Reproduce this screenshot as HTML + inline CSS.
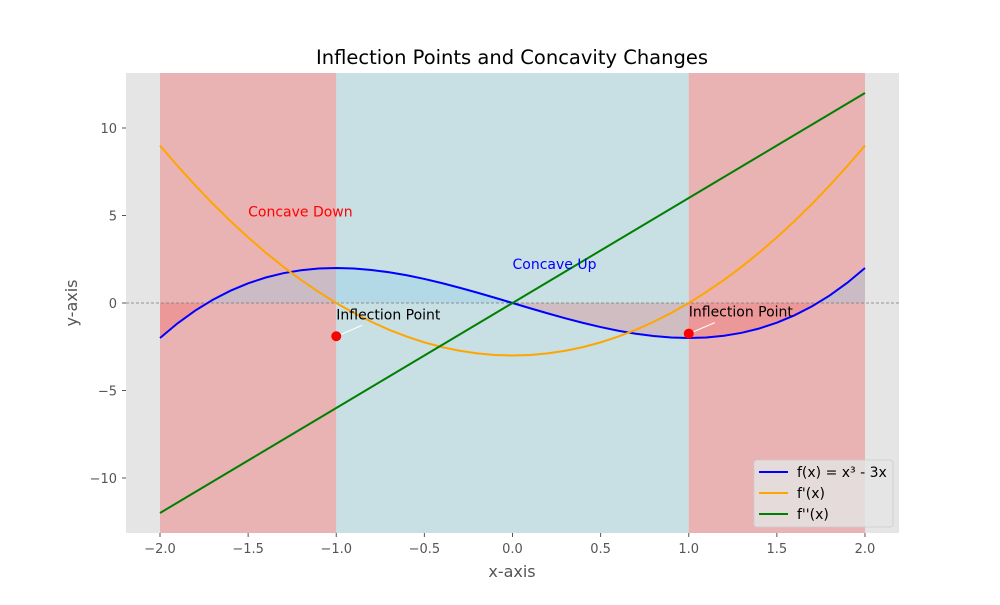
<!DOCTYPE html>
<html><head><meta charset="utf-8"><style>
body{margin:0;background:#fff;font-family:"Liberation Sans","DejaVu Sans",sans-serif}
svg text{font-family:"DejaVu Sans","Liberation Sans",sans-serif}
</style></head><body>
<svg id="chart" width="1000" height="600" xmlns="http://www.w3.org/2000/svg">
<defs>
<clipPath id="above"><rect x="126" y="73" width="773" height="230"/></clipPath>
<clipPath id="below"><rect x="126" y="303" width="773" height="230"/></clipPath>
<clipPath id="plot"><rect x="126" y="73" width="773" height="460"/></clipPath>
</defs>
<rect x="126" y="73" width="773" height="460" fill="#e5e5e5"/>
<g id="spans"></g>
<g id="fills"></g>
<line id="zero" x1="126" x2="899" stroke="#777" stroke-width="0.8" stroke-dasharray="3,2"/>
<g id="lines" clip-path="url(#plot)"></g>
<g id="ticks"></g>
<g id="annot"></g>
<text x="512" y="64" text-anchor="middle" font-size="19.5" fill="#000">Inflection Points and Concavity Changes</text>
<text x="512" y="577" text-anchor="middle" font-size="16" fill="#555">x-axis</text>
<text x="77" y="303" text-anchor="middle" font-size="16" fill="#555" transform="rotate(-90 77 303)">y-axis</text>
<g>
<rect x="754" y="460" width="139" height="67" rx="3" fill="#e5e5e5" fill-opacity="0.8" stroke="#ccc" stroke-width="0.8"/>
<line x1="759" x2="788" y1="472" y2="472" stroke="blue" stroke-width="2"/>
<text x="797" y="477" font-size="14" fill="#000">f(x) = x³ - 3x</text>
<line x1="759" x2="788" y1="493" y2="493" stroke="orange" stroke-width="2"/>
<text x="797" y="498" font-size="14" fill="#000">f'(x)</text>
<line x1="759" x2="788" y1="514" y2="514" stroke="green" stroke-width="2"/>
<text x="797" y="519" font-size="14" fill="#000">f''(x)</text>
</g>
</svg>
<script>
const xs=[-2,-1.9,-1.8,-1.7,-1.6,-1.5,-1.4,-1.3,-1.2,-1.1,-1,-0.9,-0.8,-0.7,-0.6,-0.5,-0.4,-0.3,-0.2,-0.1,0,0.1,0.2,0.3,0.4,0.5,0.6,0.7,0.8,0.9,1,1.1,1.2,1.3,1.4,1.5,1.6,1.7,1.8,1.9,2];
const fVals=[-2,-1.159,-0.432,0.187,0.704,1.125,1.456,1.703,1.872,1.969,2,1.971,1.888,1.757,1.584,1.375,1.136,0.873,0.592,0.299,0,-0.299,-0.592,-0.873,-1.136,-1.375,-1.584,-1.757,-1.888,-1.971,-2,-1.969,-1.872,-1.703,-1.456,-1.125,-0.704,-0.187,0.432,1.159,2];
const fpVals=[9,7.83,6.72,5.67,4.68,3.75,2.88,2.07,1.32,0.63,0,-0.57,-1.08,-1.53,-1.92,-2.25,-2.52,-2.73,-2.88,-2.97,-3,-2.97,-2.88,-2.73,-2.52,-2.25,-1.92,-1.53,-1.08,-0.57,0,0.63,1.32,2.07,2.88,3.75,4.68,5.67,6.72,7.83,9];
const fppVals=[-12,-11.4,-10.8,-10.2,-9.6,-9,-8.4,-7.8,-7.2,-6.6,-6,-5.4,-4.8,-4.2,-3.6,-3,-2.4,-1.8,-1.2,-0.6,0,0.6,1.2,1.8,2.4,3,3.6,4.2,4.8,5.4,6,6.6,7.2,7.8,8.4,9,9.6,10.2,10.8,11.4,12];
const spanEdges=[-2,-1,1,2];
const spanKinds=["down","up","down"];
const xTicks=[-2,-1.5,-1,-0.5,0,0.5,1,1.5,2];
const xTickLabels=["−2.0","−1.5","−1.0","−0.5","0.0","0.5","1.0","1.5","2.0"];
const yTicks=[-10,-5,0,5,10];
const yTickLabels=["−10","−5","0","5","10"];
const inflX=[-1,1];
const inflY=[-1.9,-1.75];

const X=v=>160+(v+2)*176.25, Y=v=>303-v*17.5;
const NS="http://www.w3.org/2000/svg";
function mk(tag,attrs,parent){const e=document.createElementNS(NS,tag);for(const k in attrs)e.setAttribute(k,attrs[k]);document.getElementById(parent).appendChild(e);return e;}
document.getElementById('zero').setAttribute('y1',Y(0));
document.getElementById('zero').setAttribute('y2',Y(0));
for(let i=0;i<spanKinds.length;i++){
  const r=mk('rect',{x:X(spanEdges[i]),y:73,width:X(spanEdges[i+1])-X(spanEdges[i]),height:460,fill:spanKinds[i]==='down'?'#e9b3b4':'#c8dfe4'},'spans');
  
  
}
let poly=xs.map((x,i)=>X(x)+','+Y(fVals[i])).join(' ')+' '+X(xs[xs.length-1])+','+Y(0)+' '+X(xs[0])+','+Y(0);
const fa=mk('polygon',{points:poly,fill:'#87ceeb','fill-opacity':0.3,'clip-path':'url(#above)'},'fills');


const fb=mk('polygon',{points:poly,fill:'red','fill-opacity':0.15,'clip-path':'url(#below)'},'fills');


[[fVals,'blue','f-line'],[fpVals,'orange','fprime-line'],[fppVals,'green','fdoubleprime-line']].forEach(([v,c,n])=>{
  const p=mk('polyline',{points:xs.map((x,i)=>X(x)+','+Y(v[i])).join(' '),fill:'none',stroke:c,'stroke-width':2},'lines');
  
  
});
xTicks.forEach((t,i)=>{
  mk('line',{x1:X(t),x2:X(t),y1:533,y2:537,stroke:'#555'},'ticks');
  const tx=mk('text',{x:X(t),y:553,'text-anchor':'middle','font-size':13,fill:'#555'},'ticks');
  tx.textContent=xTickLabels[i];
  
  
});
yTicks.forEach((t,i)=>{
  mk('line',{x1:122,x2:126,y1:Y(t),y2:Y(t),stroke:'#555'},'ticks');
  const tx=mk('text',{x:117,y:Y(t)+5,'text-anchor':'end','font-size':13,fill:'#555'},'ticks');
  tx.textContent=yTickLabels[i];
  
  
});
inflX.forEach((x,i)=>{
  const cx=X(x),cy=Y(inflY[i]);
  mk('line',{x1:cx+26,y1:cy-11,x2:cx+5,y2:cy-2,stroke:'#fff','stroke-width':1},'annot');
  const c=mk('circle',{cx:cx,cy:cy,r:5,fill:'red'},'annot');
  
  
  const t=mk('text',{x:cx,y:cy-17,'font-size':14,fill:'#000'},'annot');
  t.textContent='Inflection Point';
  
  
});
const cd=mk('text',{x:X(-1.5),y:Y(5)+1,'font-size':14,fill:'red'},'annot');
cd.textContent='Concave Down';


const cu=mk('text',{x:X(0),y:Y(2)+1,'font-size':14,fill:'blue'},'annot');
cu.textContent='Concave Up';


</script>
</body></html>
